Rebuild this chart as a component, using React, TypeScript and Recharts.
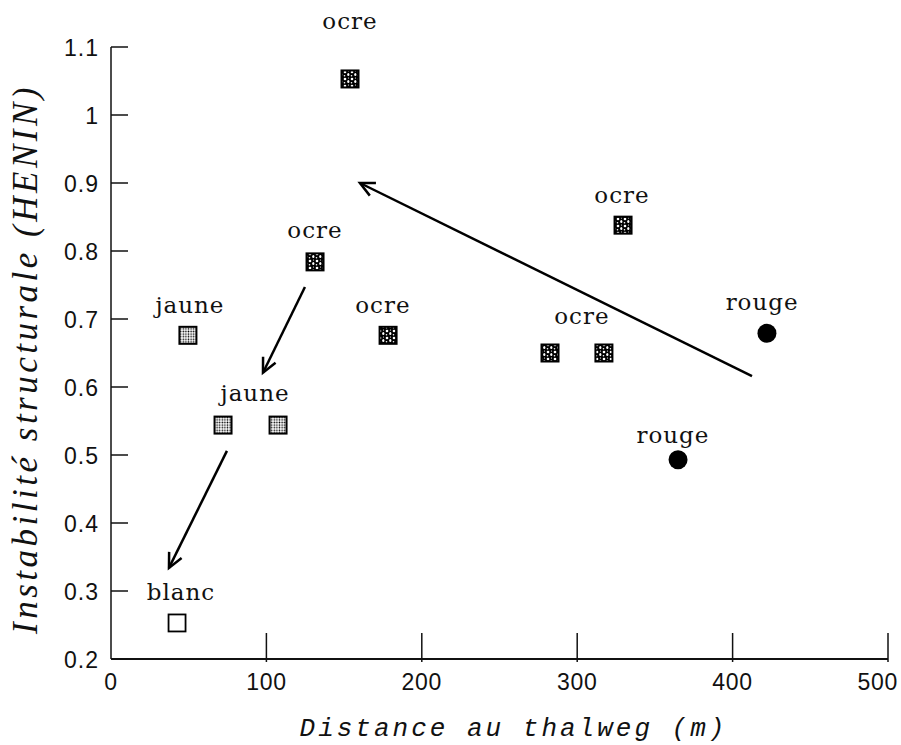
import { ScatterChart, Scatter, XAxis, YAxis, ReferenceLine, ReferenceDot } from 'recharts';

// points: distance to thalweg (m) vs structural instability
const ocreX = [153.8, 131.3, 178.3, 282.5, 317.2, 329.5];
const ocreY = [1.053, 0.784, 0.676, 0.65, 0.65, 0.838];
const jauneX = [49.5, 72.1, 107.5];
const jauneY = [0.676, 0.544, 0.544];
const blancX = [42.5];
const blancY = [0.253];
const rougeX = [422.1, 364.9];
const rougeY = [0.679, 0.493];

// colour names written over the points
const labelText = ['ocre', 'ocre', 'jaune', 'ocre', 'jaune', 'blanc', 'ocre', 'ocre', 'rouge', 'rouge'];
const labelX = [153.8, 131.3, 50.8, 175, 92.7, 45, 303, 328.8, 419, 361.6];
const labelY = [1.126, 0.819, 0.709, 0.709, 0.579, 0.287, 0.693, 0.871, 0.713, 0.518];

// arrows: start -> tip
const arrowFromX = [412.5, 124.8, 74.6];
const arrowFromY = [0.616, 0.747, 0.506];
const arrowToX = [160.2, 97.8, 37.3];
const arrowToY = [0.9, 0.621, 0.334];

const xTicks = [0, 100, 200, 300, 400, 500];
const yTicks = [0.2, 0.3, 0.4, 0.5, 0.6, 0.7, 0.8, 0.9, 1, 1.1];

const toPoints = (xs: number[], ys: number[]) => xs.map((x, i) => ({ x, y: ys[i] }));

const ocreData = toPoints(ocreX, ocreY);
const jauneData = toPoints(jauneX, jauneY);
const blancData = toPoints(blancX, blancY);
const rougeData = toPoints(rougeX, rougeY);

const Patterns = () => (
  <defs>
    <pattern id="ocrePat" width="7" height="7" patternUnits="userSpaceOnUse">
      <rect width="7" height="7" fill="#000" />
      <circle cx="2" cy="2" r="1.3" fill="#fff" />
      <ellipse cx="5.3" cy="4.6" rx="1.1" ry="1.5" fill="#fff" />
      <circle cx="1.5" cy="5.8" r="0.8" fill="#fff" />
      <circle cx="5.5" cy="1" r="0.6" fill="#fff" />
    </pattern>
    <pattern id="jaunePat" width="2.6" height="2.6" patternUnits="userSpaceOnUse">
      <rect width="2.6" height="2.6" fill="#fff" />
      <circle cx="1.3" cy="1.3" r="0.8" fill="#000" />
    </pattern>
  </defs>
);

const OcreMark = (p: any) => (
  <g>
    <Patterns />
    <rect x={p.cx - 8.5} y={p.cy - 8.5} width={17} height={17} fill="url(#ocrePat)" stroke="#000" strokeWidth={2} />
  </g>
);

const JauneMark = (p: any) => (
  <g>
    <Patterns />
    <rect x={p.cx - 8.5} y={p.cy - 8.5} width={17} height={17} fill="url(#jaunePat)" stroke="#000" strokeWidth={2} />
  </g>
);

const BlancMark = (p: any) => (
  <rect x={p.cx - 8.5} y={p.cy - 8.5} width={17} height={17} fill="#fff" stroke="#000" strokeWidth={1.8} />
);

const RougeMark = (p: any) => <circle cx={p.cx} cy={p.cy} r={9.5} fill="#000" />;

const Arrow = (p: any) => {
  const { x1, y1, x2, y2 } = p;
  const ang = Math.atan2(y2 - y1, x2 - x1);
  const len = 16;
  const spread = 0.45;
  const ax = x2 - len * Math.cos(ang - spread);
  const ay = y2 - len * Math.sin(ang - spread);
  const bx = x2 - len * Math.cos(ang + spread);
  const by = y2 - len * Math.sin(ang + spread);
  return (
    <g>
      <line x1={x1} y1={y1} x2={x2} y2={y2} stroke="#000" strokeWidth={2.5} />
      <path d={`M${ax},${ay} L${x2},${y2} L${bx},${by}`} fill="none" stroke="#000" strokeWidth={2.5} strokeLinejoin="miter" />
    </g>
  );
};

const fmtY = (v: number) => String(Number(v.toFixed(1)));

const YTick = (p: any) => (
  <g>
    <line x1={p.x} y1={p.y} x2={p.x + 17} y2={p.y} stroke="#111" strokeWidth={1.5} />
    <text x={p.x - 12} y={p.y + 8.5} textAnchor="end" fontFamily="Liberation Sans" fontSize={23} letterSpacing={1} fill="#111">
      {fmtY(p.payload.value)}
    </text>
  </g>
);

const XTick = (p: any) => {
  const last = p.payload.value === xTicks[xTicks.length - 1];
  return (
    <g>
      {p.payload.value !== 0 && <line x1={p.x} y1={p.y - 26} x2={p.x} y2={p.y + 3} stroke="#111" strokeWidth={1.5} />}
      <text
        x={last ? p.x + 10 : p.x}
        y={p.y + 31}
        textAnchor={last ? 'end' : 'middle'}
        fontFamily="Liberation Sans"
        fontSize={23}
        letterSpacing={0.7}
        fill="#111"
      >
        {p.payload.value}
      </text>
    </g>
  );
};

const YTitle = (p: any) => {
  const vb = p.viewBox;
  const cx = vb.x - 14;
  const cy = vb.y + vb.height / 2 + 6;
  return (
    <text x={cx} y={cy} transform={`rotate(-90, ${cx}, ${cy})`} textAnchor="middle" fontFamily="Liberation Serif" fontStyle="italic" fontSize={35} letterSpacing={3.5} fill="#111">
      Instabilité structurale (HENIN)
    </text>
  );
};

const XTitle = (p: any) => {
  const vb = p.viewBox;
  return (
    <text x={vb.x + vb.width / 2 + 14} y={vb.y + 77} textAnchor="middle" fontFamily="Liberation Mono" fontStyle="italic" fontSize={26} letterSpacing={3} fill="#111">
      Distance au thalweg (m)
    </text>
  );
};

export default function App() {
  return (
    <div style={{ position: 'absolute', left: 0, top: 0, width: 901, height: 745, background: '#fff' }}>
      <ScatterChart width={901} height={745} margin={{ top: 47, right: 13, bottom: 46, left: 51 }}>
        <XAxis
          type="number"
          dataKey="x"
          domain={[0, 500]}
          ticks={xTicks}
          interval={0}
          height={40}
          tickSize={0}
          tickMargin={0}
          tickLine={false}
          axisLine={{ stroke: '#111', strokeWidth: 2 }}
          tick={<XTick />}
          label={<XTitle />}
        />
        <YAxis
          type="number"
          dataKey="y"
          domain={[0.2, 1.1]}
          ticks={yTicks}
          interval={0}
          width={60}
          tickSize={0}
          tickMargin={0}
          tickLine={false}
          axisLine={{ stroke: '#111', strokeWidth: 1.5 }}
          tick={<YTick />}
          label={<YTitle />}
        />
        {arrowFromX.map((fx, i) => (
          <ReferenceLine
            key={`arrow-${i}`}
            segment={[{ x: fx, y: arrowFromY[i] }, { x: arrowToX[i], y: arrowToY[i] }]}
            ifOverflow="visible"
            shape={Arrow}
          />
        ))}
        <Scatter name="ocre" data={ocreData} shape={OcreMark} isAnimationActive={false} />
        <Scatter name="jaune" data={jauneData} shape={JauneMark} isAnimationActive={false} />
        <Scatter name="blanc" data={blancData} shape={BlancMark} isAnimationActive={false} />
        <Scatter name="rouge" data={rougeData} shape={RougeMark} isAnimationActive={false} />
        {labelText.map((t, i) => (
          <ReferenceDot
            key={`lbl-${i}`}
            x={labelX[i]}
            y={labelY[i]}
            r={0}
            ifOverflow="visible"
            shape={(p: any) => (
              <text x={p.cx} y={p.cy} textAnchor="middle" fontFamily="DejaVu Serif" fontSize={23} letterSpacing={1} fill="#111">
                {t}
              </text>
            )}
          />
        ))}
      </ScatterChart>
    </div>
  );
}
